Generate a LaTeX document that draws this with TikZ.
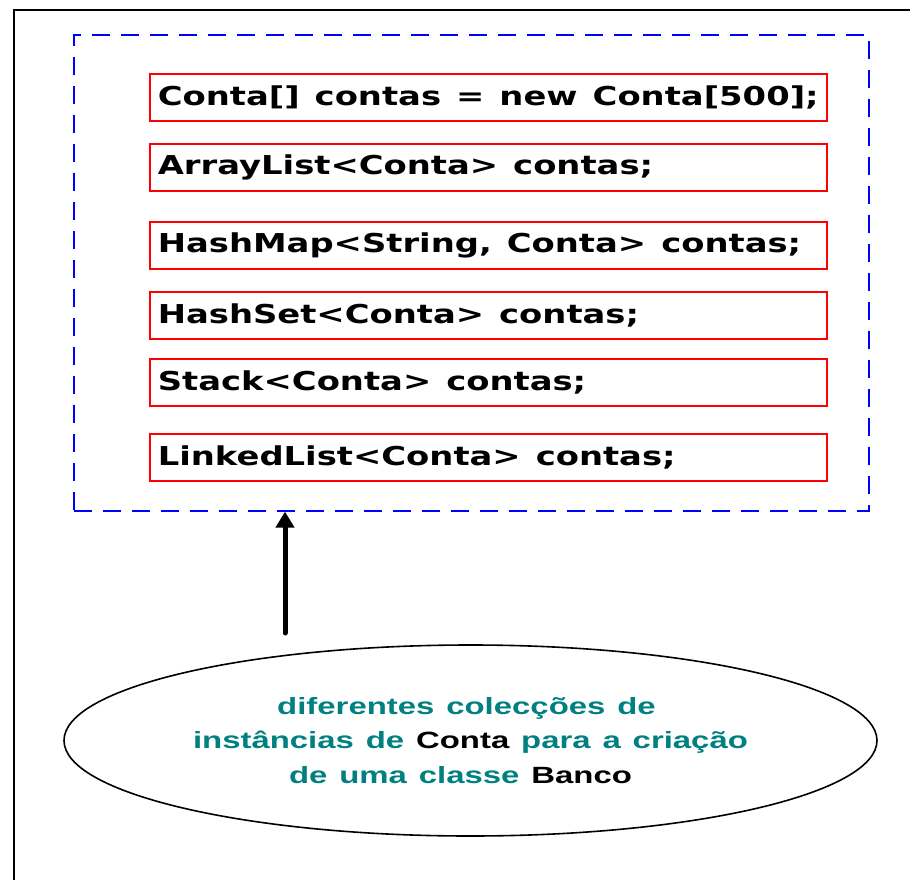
\documentclass[tikz,border=0pt]{standalone}
\usepackage{fontspec}
\setmainfont{Liberation Sans}[FakeStretch=1.4, WordSpace=1.3]
\newfontfamily\codefont{DejaVu Sans}[FakeStretch=1.3]
\usetikzlibrary{shapes.geometric,arrows.meta}
\definecolor{tealtext}{RGB}{0,128,128}
\tikzset{
  x=1pt, y=1pt,
  decl/.style={draw=red, line width=1.6pt, rectangle, anchor=north west,
    minimum width=677pt, minimum height=47pt, text width=661pt,
    inner xsep=8pt, inner ysep=0pt, align=left,
    font=\codefont\bfseries\fontsize{26}{30}\selectfont,
    execute at begin node={\spaceskip=15pt\relax}},
  group/.style={draw=blue, line width=1.6pt, dash pattern=on 18pt off 11pt,
    rectangle, anchor=north west, minimum width=795pt, minimum height=476pt,
    inner sep=0pt},
  note/.style={draw=black, line width=1.6pt, ellipse, inner sep=0pt,
    minimum width=813pt, minimum height=191pt, align=center,
    text=tealtext, font=\bfseries\fontsize{23.5}{34.5}\selectfont},
  frameline/.style={line width=2pt, black},
  uparrow/.style={line width=5pt, line cap=round,
    -{Triangle[width=18pt,length=16pt]}}
}
\begin{document}
\begin{tikzpicture}
\useasboundingbox (0,0) rectangle (910,-880);
% page frame, open at the right and bottom
\draw[frameline] (14,-880) -- (14,-10) -- (910,-10);
% dashed group of declarations
\node[group] (grp) at (73,-34) {};
\node[decl] (d1) at (149,-73)  {Conta[] contas = new Conta[500];};
\node[decl] (d2) at (149,-143) {ArrayList<Conta> contas;};
\node[decl] (d3) at (149,-221) {HashMap<String, Conta> contas;};
\node[decl] (d4) at (149,-291) {HashSet<Conta> contas;};
\node[decl] (d5) at (149,-358) {Stack<Conta> contas;};
\node[decl] (d6) at (149,-433) {LinkedList<Conta> contas;};
% explanatory ellipse
\node[note] (note) at (470.5,-740.5)
  {diferentes colecções de\hspace*{8pt}\\
   instâncias de \textcolor{black}{Conta} para a criação\hspace*{12pt}\\
   de uma classe \textcolor{black}{Banco}\hspace*{20pt}};
\coordinate (tail) at (285,-633);
\draw[uparrow] (tail) -- (tail |- grp.south);
\end{tikzpicture}
\end{document}
